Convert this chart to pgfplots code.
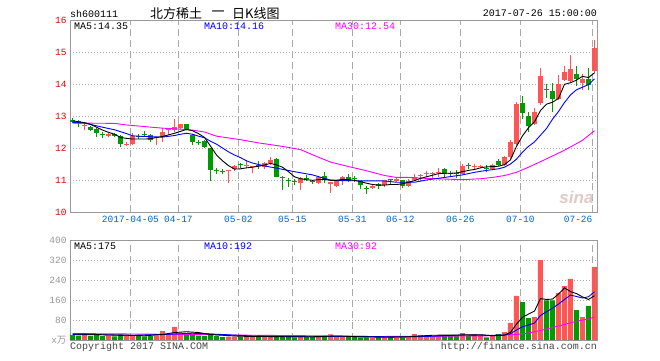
\documentclass[border=0pt]{standalone}
\usepackage{pgfplots}
\pgfplotsset{compat=1.18}
\usepackage{pgfplotstable}
\usepackage{fontspec}
\setmainfont{Liberation Mono}
\setmonofont{Liberation Mono}
\newfontfamily\cjk{Noto Sans CJK SC}
\newfontfamily\sinafont{Liberation Sans}
\definecolor{cred}{RGB}{255,85,85}
\definecolor{cgreen}{RGB}{0,155,0}
\definecolor{tickblue}{RGB}{0,102,204}
\definecolor{tickred}{RGB}{230,0,0}
\definecolor{bordergray}{RGB}{153,153,153}
\definecolor{gridgray}{RGB}{170,170,170}
\definecolor{labgray}{RGB}{150,150,150}
\definecolor{foot}{RGB}{70,70,70}
\definecolor{ma10}{RGB}{0,0,255}
\definecolor{ma30}{RGB}{255,0,255}
\definecolor{wm}{RGB}{228,200,200}

% candles: i open high low close
\pgfplotstableread{
i o h l c
2 12.69 12.74 12.55 12.72
6 12.38 12.46 12.33 12.44
9 12.10 12.18 12.05 12.13
10 12.13 12.46 12.08 12.36
14 12.30 12.34 12.08 12.33
15 12.34 12.64 12.20 12.50
16 12.55 12.62 12.41 12.58
17 12.56 12.91 12.50 12.66
18 12.62 12.76 12.58 12.75
26 11.28 11.32 10.92 11.31
27 11.34 11.47 11.29 11.44
29 11.45 11.61 11.37 11.48
30 11.40 11.44 11.21 11.43
32 11.42 11.55 11.34 11.53
33 11.53 11.72 11.48 11.63
38 10.92 11.10 10.68 11.05
41 10.92 11.14 10.87 11.10
43 10.89 10.95 10.60 10.93
44 10.80 10.98 10.77 10.96
45 11.00 11.14 10.85 11.10
50 10.75 10.83 10.72 10.82
52 10.84 11.01 10.77 11.00
54 10.98 11.08 10.93 11.02
56 10.80 11.03 10.78 10.96
57 11.00 11.19 10.96 11.10
58 11.12 11.19 10.98 11.17
59 11.20 11.29 11.08 11.23
60 11.19 11.24 11.06 11.22
61 11.22 11.38 11.08 11.25
65 11.20 11.50 11.18 11.44
67 11.40 11.49 11.35 11.43
68 11.40 11.46 11.36 11.43
70 11.33 11.50 11.30 11.48
72 11.47 11.75 11.45 11.73
73 11.72 12.24 11.66 12.18
74 12.14 13.43 12.08 13.38
77 12.74 13.24 12.72 13.12
78 13.40 14.50 13.35 14.24
81 13.54 14.27 13.50 14.00
82 14.13 14.56 14.10 14.38
83 14.08 14.90 14.05 14.47
85 14.04 14.30 13.81 14.15
87 14.40 15.36 14.33 15.12
}\up
\pgfplotstableread{
i o h l c
0 12.88 12.95 12.77 12.82
1 12.85 12.87 12.67 12.77
3 12.66 12.68 12.52 12.55
4 12.59 12.61 12.33 12.48
5 12.45 12.50 12.31 12.42
7 12.44 12.46 12.35 12.38
8 12.38 12.40 12.02 12.12
11 12.38 12.43 12.29 12.35
12 12.45 12.54 12.34 12.42
13 12.41 12.43 12.19 12.25
19 12.75 12.76 12.56 12.60
20 12.41 12.43 12.08 12.19
21 12.18 12.24 12.08 12.15
22 12.21 12.26 12.00 12.03
23 12.00 12.01 10.98 11.32
24 11.30 11.39 11.19 11.27
25 11.28 11.34 11.19 11.25
28 11.49 11.53 11.39 11.46
31 11.48 11.58 11.34 11.45
34 11.65 11.68 11.08 11.10
35 11.09 11.13 10.68 11.06
36 11.01 11.07 10.79 10.98
37 10.97 11.02 10.84 10.94
39 11.07 11.16 10.98 11.04
40 10.97 11.00 10.87 10.94
42 11.13 11.26 10.90 11.00
46 11.10 11.19 10.93 10.98
47 11.06 11.14 10.93 11.03
48 10.96 10.97 10.71 10.84
49 10.74 10.80 10.56 10.71
51 10.89 10.90 10.72 10.82
53 11.03 11.04 10.87 11.00
55 10.99 11.00 10.74 10.80
62 11.35 11.38 11.06 11.20
63 11.21 11.27 11.10 11.18
64 11.22 11.31 11.06 11.19
66 11.47 11.52 11.33 11.44
69 11.39 11.46 11.25 11.36
71 11.60 11.66 11.45 11.48
75 13.40 13.63 12.90 13.10
76 13.00 13.12 12.50 12.68
79 13.84 14.00 13.56 13.81
80 13.77 14.03 13.12 13.53
84 14.31 14.55 13.93 14.16
86 14.16 14.49 13.80 13.98
}\down
% price moving averages
\pgfplotstableread{
i v
0 12.85
1 12.82
2 12.79
3 12.74
4 12.65
5 12.56
6 12.49
7 12.43
8 12.33
9 12.30
10 12.28
11 12.28
12 12.28
13 12.29
14 12.33
15 12.36
16 12.41
17 12.46
18 12.52
19 12.58
20 12.54
21 12.45
22 12.33
23 12.06
24 11.78
25 11.60
26 11.45
27 11.34
28 11.35
29 11.38
30 11.40
31 11.43
32 11.47
33 11.52
34 11.47
35 11.40
36 11.26
37 11.10
38 11.04
39 11.01
40 10.99
41 11.01
42 11.02
43 10.99
44 10.99
45 11.02
46 11.01
47 10.99
48 10.95
49 10.90
50 10.86
51 10.84
52 10.84
53 10.86
54 10.86
55 10.88
56 10.93
57 10.98
58 11.05
59 11.10
60 11.15
61 11.20
62 11.21
63 11.21
64 11.22
65 11.26
66 11.30
67 11.33
68 11.38
69 11.41
70 11.42
71 11.43
72 11.48
73 11.63
74 12.05
75 12.38
76 12.63
77 12.82
78 13.17
79 13.37
80 13.43
81 13.55
82 13.99
83 14.04
84 14.12
85 14.24
86 14.20
87 14.35
}\mafive
\pgfplotstableread{
i v
0 12.80
2 12.78
5 12.65
7 12.57
9 12.45
10 12.38
12 12.36
15 12.34
17 12.39
18 12.43
19 12.46
20 12.43
21 12.37
22 12.32
23 12.21
24 12.12
25 12.00
26 11.88
27 11.78
28 11.70
29 11.60
30 11.53
32 11.44
34 11.37
37 11.26
40 11.16
42 11.05
43 11.00
45 10.98
52 10.97
54 10.93
57 10.93
59 11.00
62 11.08
65 11.16
67 11.24
69 11.30
71 11.35
72 11.40
73 11.50
74 11.65
75 11.87
76 12.05
77 12.19
78 12.40
79 12.61
80 12.90
81 13.14
82 13.42
83 13.66
84 13.82
85 13.90
86 13.98
87 14.16
}\maten
\pgfplotstableread{
i v
0 12.78
7 12.77
9 12.72
12 12.67
15 12.62
18 12.59
20 12.56
22 12.50
24 12.37
28 12.26
31 12.16
35 12.05
38 11.95
40 11.79
43 11.56
46 11.42
49 11.29
52 11.14
54 11.08
56 11.08
59 11.05
65 11.01
68 11.04
70 11.08
72 11.14
74 11.24
76 11.40
79 11.66
82 11.93
85 12.24
87 12.54
}\mathirty
% volumes
\pgfplotstableread{
i v
2 22
6 18
9 16
10 20
14 18
15 36
16 22
17 53
18 30
26 14
27 14
29 16
30 14
32 13
33 12
38 14
41 14
43 23
44 16
45 16
50 11
52 11
54 11
56 11
57 24
58 20
59 20
60 16
61 20
65 28
67 23
68 16
70 16
72 32
73 69
74 177
77 92
78 320
81 189
82 216
83 245
85 92
87 293
}\volup
\pgfplotstableread{
i v
0 20
1 18
3 17
4 22
5 16
7 15
8 22
11 17
12 15
13 16
19 20
20 20
21 18
22 16
23 26
24 16
25 12
28 14
31 12
34 16
35 20
36 13
37 11
39 13
40 12
42 16
46 16
47 13
48 11
49 11
51 11
53 11
55 11
62 20
63 20
64 20
66 16
69 11
71 24
75 152
76 88
79 159
80 159
84 120
86 137
}\voldown
\pgfplotstableread{
i v
0 24
3 23
6 20
9 19
12 17
15 22
17 30
19 33
21 30
23 22
25 19
28 15
32 14
36 13
40 13
44 16
48 13
52 11
56 13
60 19
64 20
68 21
70 17
71 18
72 19.8
73 30.4
74 63.6
75 90.8
76 103.6
77 115.6
78 165.8
79 162.2
80 163.6
81 183.8
82 208.6
83 193.6
84 185.8
85 172.4
86 162
87 177.4
}\vmafive
\pgfplotstableread{
i v
0 22
5 21
10 19
15 22
20 27
25 22
30 16
35 14
40 13
45 15
50 14
55 12
60 15
65 20
70 19
72 20
73 25
74 40
75 53
76 60
77 67.7
78 98.1
79 112.9
80 127.2
81 143.7
82 162.1
83 179.7
84 174
85 168
86 172.9
87 193
}\vmaten
\pgfplotstableread{
i v
0 26
10 24
20 22
30 19
40 17
50 14
60 15
70 17
74 22
76 28
78 38
80 50
82 62
84 75
86 84
87 92
}\vmathirty

\pgfplotsset{
  wick/.style={forget plot, only marks, mark=*, mark size=0pt,
    mark options={draw=none, fill=none},
    error bars/.cd, y dir=plus, y explicit, error mark=none,
    error bar style={line width=1pt, draw=#1, solid}},
  body/.style={forget plot, only marks, mark=*, mark size=0pt,
    mark options={draw=none, fill=none},
    error bars/.cd, y dir=plus, y explicit, error mark=none,
    error bar style={line width=5pt, line cap=butt, draw=#1, solid}},
  frame/.style={scale only axis, width=527pt, xmin=-0.42, xmax=87.42,
    axis line style={draw=bordergray, line width=0.8pt},
    major tick length=0pt,
    xtick={9.65,17.65,27.65,36.65,46.65,54.65,64.65,74.65,86.65},
    xmajorgrids, ymajorgrids,
    major x grid style={draw=gridgray, line width=0.8pt, dash pattern=on 7pt off 4pt},
    major y grid style={draw=gridgray, line width=0.8pt, dash pattern=on 1pt off 2pt},
    tick label style={font=\fontsize{9.5}{10}\selectfont},
    clip=true},
}

\begin{document}
\begin{tikzpicture}[x=1pt,y=1pt]
\useasboundingbox (0,0) rectangle (660,360);

\begin{axis}[frame, at={(70pt,148pt)}, anchor=south west, height=192pt,
  ymin=10, ymax=16, ytick={10,11,12,13,14,15,16},
  yticklabels={10,11,12,13,14,15,16},
  yticklabel style={text=tickred},
  xticklabels={2017-04-05,04-17,05-02,05-15,05-31,06-12,06-26,07-10,\makebox[0pt][r]{07-26}},
  xticklabel style={text=tickblue, yshift=-1pt}]
\node[font=\sinafont\bfseries\itshape\fontsize{17}{17}\selectfont, text=wm] at (axis cs:84.0,10.45) {sina};
\addplot[wick=cred] table[x=i, y=l, y error plus expr=\thisrow{h}-\thisrow{l}] {\up};
\addplot[body=cred] table[x=i, y=o, y error plus expr=\thisrow{c}-\thisrow{o}] {\up};
\addplot[wick=cgreen] table[x=i, y=l, y error plus expr=\thisrow{h}-\thisrow{l}] {\down};
\addplot[body=cgreen] table[x=i, y=c, y error plus expr=\thisrow{o}-\thisrow{c}] {\down};
\addplot[ma30, line width=0.9pt, mark=none] table[x=i, y=v] {\mathirty};
\addplot[ma10, line width=0.9pt, mark=none] table[x=i, y=v] {\maten};
\addplot[black, line width=0.9pt, mark=none] table[x=i, y=v] {\mafive};
\end{axis}

\begin{axis}[frame, at={(70pt,20pt)}, anchor=south west, height=100pt,
  ymin=0, ymax=400, ytick={0,80,160,240,320,400},
  yticklabels={{x\cjk 万},80,160,240,320,400},
  yticklabel style={text=labgray},
  xticklabels={}]
\addplot[ybar, bar width=5pt, bar shift=0pt, fill=cred, draw=none, forget plot] table[x=i, y=v] {\volup};
\addplot[ybar, bar width=5pt, bar shift=0pt, fill=cgreen, draw=none, forget plot] table[x=i, y=v] {\voldown};
\addplot[ma30, line width=0.9pt, mark=none] table[x=i, y=v] {\vmathirty};
\addplot[ma10, line width=0.9pt, mark=none] table[x=i, y=v] {\vmaten};
\addplot[black, line width=0.9pt, mark=none] table[x=i, y=v] {\vmafive};
\end{axis}

% header
\node[anchor=west, font=\fontsize{10}{10}\selectfont, inner sep=0] at (70,346.5) {sh600111};
\node[anchor=west, font=\cjk\fontsize{13}{13}\selectfont, inner sep=0] at (150,346.5) {北方稀土};
\node[anchor=center, font=\cjk\fontsize{13}{13}\selectfont, inner sep=0] at (218,346.5) {一};
\node[anchor=west, font=\cjk\fontsize{13}{13}\selectfont, inner sep=0] at (232,346.5) {日K线图};
\node[anchor=east, font=\fontsize{10}{10}\selectfont, inner sep=0] at (597,346.5) {2017-07-26 15:00:00};
% price legend
\node[anchor=west, font=\fontsize{10}{10}\selectfont, inner sep=0] at (74,333.5) {MA5:14.35};
\node[anchor=west, font=\fontsize{10}{10}\selectfont, inner sep=0, text=ma10] at (204,333.5) {MA10:14.16};
\node[anchor=west, font=\fontsize{10}{10}\selectfont, inner sep=0, text=ma30] at (335,333.5) {MA30:12.54};
% volume legend
\node[anchor=west, font=\fontsize{10}{10}\selectfont, inner sep=0] at (74,113.5) {MA5:175};
\node[anchor=west, font=\fontsize{10}{10}\selectfont, inner sep=0, text=ma10] at (204,113.5) {MA10:192};
\node[anchor=west, font=\fontsize{10}{10}\selectfont, inner sep=0, text=ma30] at (335,113.5) {MA30:92};
% footer
\node[anchor=west, font=\fontsize{10}{10}\selectfont, inner sep=0, text=foot] at (70,13) {Copyright 2017 SINA.COM};
\node[anchor=east, font=\fontsize{10}{10}\selectfont, inner sep=0, text=foot] at (597,13) {http://finance.sina.com.cn};
\end{tikzpicture}
\end{document}
